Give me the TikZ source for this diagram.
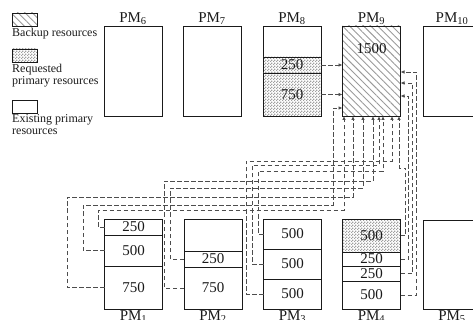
\documentclass[tikz,border=0pt]{standalone}
\usepackage{fontspec}
\setmainfont{Liberation Serif}
\usepackage{tikz}
\usetikzlibrary{arrows.meta,patterns,patterns.meta}
\definecolor{pmInk}{HTML}{1A1A1A}
\definecolor{pmLink}{HTML}{4D4D4D}
\definecolor{pmHatch}{HTML}{9A9A9A}
\definecolor{pmCheck}{HTML}{A0A0A0}
\pgfdeclarepattern{
  name=pmchecks,
  type=uncolored,
  bottom left={\pgfpointorigin},
  top right={\pgfpoint{3pt}{3pt}},
  tile size={\pgfpoint{3pt}{3pt}},
  code={
    \pgfpathrectangle{\pgfpointorigin}{\pgfpoint{1.5pt}{1.5pt}}
    \pgfpathrectangle{\pgfpoint{1.5pt}{1.5pt}}{\pgfpoint{1.5pt}{1.5pt}}
    \pgfusepath{fill}
  }
}
\tikzset{
  pm diagram/.style={x=1pt, y=-1pt, font=\fontsize{15}{15}\selectfont, text=pmInk},
  pm box/.style={draw=pmInk, line width=0.9pt, minimum width=58pt,
    minimum height=90pt, inner sep=0pt, outer sep=0pt},
  pm seg/.style={pm box, minimum height=#1},
  pm backup/.style={pattern={Lines[angle=-45,distance=5pt,line width=0.9pt]},
    pattern color=pmHatch},
  pm request/.style={pattern=pmchecks, pattern color=pmCheck},
  pm name/.style={inner sep=1pt},
  pm link/.style={draw=pmLink, line width=0.75pt, dash pattern=on 4.5pt off 2.5pt,
    -{Latex[length=4pt,width=3.5pt]}},
  pm key/.style={draw=pmInk, line width=0.8pt, minimum width=25pt,
    minimum height=13pt, inner sep=0pt, outer sep=0pt},
  pm key text/.style={font=\fontsize{12}{12}\selectfont, align=left,
    inner sep=1.5pt, anchor=north west}
}
\begin{document}
\begin{tikzpicture}[pm diagram]
\useasboundingbox (0,0) rectangle (473,320);
% legend
\node[pm key, pm backup] (keyb) at (24.5,19.5) {};
\node[pm key text] (keybt) at ([xshift=-1.5pt]keyb.south west) {Backup resources};
\node[pm key, pm request] (keyr) at (24.5,55.5) {};
\node[pm key text] (keyrt) at ([xshift=-1.5pt]keyr.south west) {Requested\\primary resources};
\node[pm key] (keye) at (24.5,106.5) {};
\node[pm key text] (keyet) at ([xshift=-1.5pt]keye.south west) {Existing primary\\resources};
% upper row
\node[pm box] (pm6) at (133,71) {};
\node[pm box] (pm7) at (212,71) {};
\node[pm seg=31pt] (pm8w) at (292,41.5) {};
\node[pm seg=16pt, pm request] (pm8a) at (292,65) {250};
\node[pm seg=43pt, pm request] (pm8b) at (292,94.5) {750};
\node[pm box, pm backup] (pm9) at (371.5,71) {};
\node (bk9) at (371.5,49) {1500};
\node[pm box] (pm10) at (452,71) {};
\foreach \n/\k in {pm6/6,pm7/7,pm8w/8,pm9/9,pm10/10}
  \node[pm name, anchor=south] (lab\k) at (\n.north) {PM\textsubscript{\k}};
% lower row
\node[pm seg=16pt] (pm1a) at (133.5,227) {250};
\node[pm seg=31pt] (pm1b) at (133.5,250.5) {500};
\node[pm seg=43pt] (pm1c) at (133.5,287.5) {750};
\node[pm seg=32pt] (pm2w) at (213,235) {};
\node[pm seg=16pt] (pm2b) at (213,259) {250};
\node[pm seg=42pt] (pm2c) at (213,288) {750};
\node[pm seg=30pt] (pm3a) at (292.5,234) {500};
\node[pm seg=30pt] (pm3b) at (292.5,264) {500};
\node[pm seg=30pt] (pm3c) at (292.5,294) {500};
\node[pm seg=33pt, pm request] (pm4a) at (371.5,235.5) {500};
\node[pm seg=14pt] (pm4b) at (371.5,259) {250};
\node[pm seg=15pt] (pm4c) at (371.5,273.5) {250};
\node[pm seg=28pt] (pm4d) at (371.5,295) {500};
\node[pm seg=89pt] (pm5) at (452,264.5) {};
\foreach \n/\k in {pm1c/1,pm2c/2,pm3c/3,pm4d/4,pm5/5}
  \node[pm name, anchor=north] (lab\k) at (\n.south) {PM\textsubscript{\k}};
% entry points on PM9
\foreach \n/\dx in {ba/1.5,bb/10.5,bc/20.5,bd/30.5,be/36.5,bf/40.5,bg/49.5,bh/56.5}
  \path (pm9.south west) ++(\dx,0) coordinate (\n);
\foreach \n/\dy in {ra/46,rb/57,rc/70}
  \path (pm9.north east) ++(0,\dy) coordinate (\n);
\path (pm9.north west) ++(0,82) coordinate (la);
% links
\draw[pm link] (pm8a) -- (pm8a -| pm9.west);
\draw[pm link] (pm8b) -- (pm8b -| pm9.west);
\foreach \s/\xv/\lv/\t in {pm1a/98/210/ba,pm1c/67/197/bb,pm2b/170/188/bc,pm2c/164/181/bd,pm3b/252/165/be,pm3a/258/171/bf,pm3c/246/161/bg}
  \draw[pm link] (\s.west) -| (\xv,\lv) -| (\t);
\draw[pm link] (pm1b.west) -| (83,205) -| (333,108) -- (la);
\draw[pm link] (pm4a.east) -- ++(5,0) -- ++(0,-67.5) -| (bh);
\foreach \s/\dx/\t in {pm4b/8/rc,pm4c/12/rb,pm4d/16/ra}
  \draw[pm link] (\s.east) -- ++(\dx,0) |- (\t);
\end{tikzpicture}
\end{document}
